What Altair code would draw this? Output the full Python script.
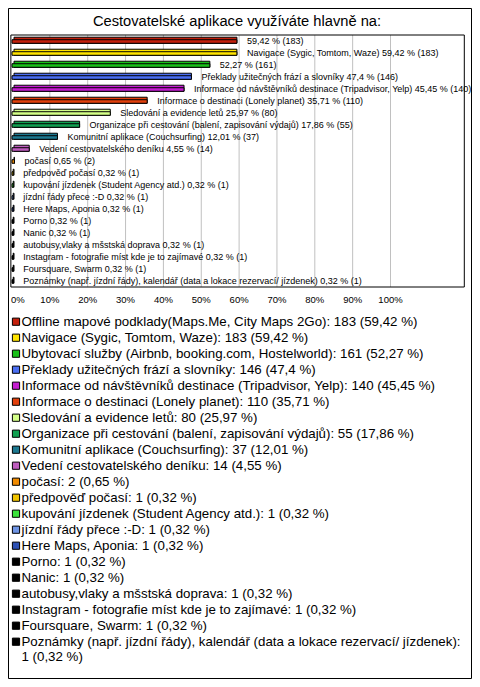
import altair as alt
import pandas as pd

title_text = "Cestovatelské aplikace využíváte hlavně na:"

categories = [
    "Offline mapové podklady(Maps.Me, City Maps 2Go)",
    "Navigace (Sygic, Tomtom, Waze)",
    "Ubytovací služby (Airbnb, booking.com, Hostelworld)",
    "Překlady užitečných frází a slovníky",
    "Informace od návštěvníků destinace (Tripadvisor, Yelp)",
    "Informace o destinaci (Lonely planet)",
    "Sledování a evidence letů",
    "Organizace při cestování (balení, zapisování výdajů)",
    "Komunitní aplikace (Couchsurfing)",
    "Vedení cestovatelského deníku",
    "počasí",
    "předpověď počasí",
    "kupování jízdenek (Student Agency atd.)",
    "jízdní řády přece :-D",
    "Here Maps, Aponia",
    "Porno",
    "Nanic",
    "autobusy,vlaky a mšstská doprava",
    "Instagram - fotografie míst kde je to zajímavé",
    "Foursquare, Swarm",
    "Poznámky (např. jízdní řády), kalendář (data a lokace rezervací/ jízdenek)",
]

bar_names = [
    "",
    "Navigace (Sygic, Tomtom, Waze)",
    "",
    "Překlady užitečných frází a slovníky",
    "Informace od návštěvníků destinace (Tripadvisor, Yelp)",
    "Informace o destinaci (Lonely planet)",
    "Sledování a evidence letů",
    "Organizace při cestování (balení, zapisování výdajů)",
    "Komunitní aplikace (Couchsurfing)",
    "Vedení cestovatelského deníku",
    "počasí",
    "předpověď počasí",
    "kupování jízdenek (Student Agency atd.)",
    "jízdní řády přece :-D",
    "Here Maps, Aponia",
    "Porno",
    "Nanic",
    "autobusy,vlaky a mšstská doprava",
    "Instagram - fotografie míst kde je to zajímavé",
    "Foursquare, Swarm",
    "Poznámky (např. jízdní řády), kalendář (data a lokace rezervací/ jízdenek)",
]

counts = [183, 183, 161, 146, 140, 110, 80, 55, 37, 14, 2,
          1, 1, 1, 1, 1, 1, 1, 1, 1, 1]

percents = [59.42, 59.42, 52.27, 47.4, 45.45, 35.71, 25.97, 17.86, 12.01, 4.55, 0.65,
            0.32, 0.32, 0.32, 0.32, 0.32, 0.32, 0.32, 0.32, 0.32, 0.32]

percent_texts = ["59,42", "59,42", "52,27", "47,4", "45,45", "35,71", "25,97", "17,86",
                 "12,01", "4,55", "0,65", "0,32", "0,32", "0,32", "0,32", "0,32",
                 "0,32", "0,32", "0,32", "0,32", "0,32"]

colors = ["#c4200c", "#ffe400", "#18c018", "#4a6ef2", "#c41cd0", "#e2400c",
          "#d4ff88", "#10a050", "#1c7890", "#be5cbe", "#f08a00", "#f0c400",
          "#3ce43c", "#6e94e4", "#2c50b4", "#000000", "#000000", "#000000",
          "#000000", "#000000", "#000000"]

tick_values = [0, 10, 20, 30, 40, 50, 60, 70, 80, 90, 100]
tick_texts = ["0%", "10%", "20%", "30%", "40%", "50%", "60%", "70%", "80%", "90%", "100%"]

FONT = "Liberation Sans, Arial, sans-serif"
W, H = 464, 671
XMAX = 1.195
PX100 = 378.5

def legend_label(cat, n, p):
    s = f"{cat}: {n} ({p} %)"
    if len(s) > 75:
        s = f"{cat}:\n{n} ({p} %)"
    return s

df = pd.DataFrame({
    "row": list(range(len(categories))),
    "cat": categories,
    "pct": [p / 100 for p in percents],
    "color": colors,
    "bar_label": [(f"{b} " if b else "") + f"{p} % ({n})" for b, p, n in zip(bar_names, percent_texts, counts)],
    "legend_label": [legend_label(c, n, p) for c, n, p in zip(categories, counts, percent_texts)],
})
df["y0"] = df["row"] - 0.19
df["y1"] = df["row"] + 0.19
df["x0"] = 0.0

xs = alt.Scale(domain=[0, XMAX], range=[4, 4 + PX100 * XMAX], nice=False, zero=False)
ys = alt.Scale(domain=[-0.5, 20.5], range=[27, 279], nice=False, zero=False)
ls = alt.Scale(domain=[0, 20], range=[313.7, 633.7], nice=False, zero=False)

grid_df = pd.DataFrame({"v": [t / 100 for t in tick_values[1:]], "y0": -0.5, "y1": 20.5})
tick_df = pd.DataFrame({"v": [t / 100 for t in tick_values], "lab": tick_texts, "y": 20.5})
frame_df = pd.DataFrame({"x0": [-0.003], "x1": [XMAX], "y0": [-0.5], "y1": [20.5]})

outer = alt.Chart(pd.DataFrame({"a": [0]})).mark_rect(
    fill="white", stroke="black", strokeWidth=1
).encode(x=alt.value(0.5), x2=alt.value(W - 0.5), y=alt.value(0.5), y2=alt.value(H - 0.5))

title = alt.Chart(pd.DataFrame({"t": [title_text]})).mark_text(
    font=FONT, fontSize=14.7, color="black", align="center", baseline="alphabetic"
).encode(x=alt.value(229), y=alt.value(18), text="t:N")

grid = alt.Chart(grid_df).mark_rule(color="#c0c0c0", strokeWidth=1).encode(
    x=alt.X("v:Q", scale=xs, axis=None),
    y=alt.Y("y0:Q", scale=ys, axis=None),
    y2="y1:Q",
)

bars_back = alt.Chart(df).mark_rect(stroke="black", strokeWidth=1, xOffset=2, yOffset=-1.5).encode(
    x=alt.X("x0:Q", scale=xs, axis=None),
    x2="pct:Q",
    y=alt.Y("y0:Q", scale=ys, axis=None),
    y2="y1:Q",
    color=alt.Color("color:N", scale=None),
)

bars_front = alt.Chart(df).mark_rect(stroke="black", strokeWidth=1, yOffset=1).encode(
    x=alt.X("x0:Q", scale=xs, axis=None),
    x2="pct:Q",
    y=alt.Y("y0:Q", scale=ys, axis=None),
    y2="y1:Q",
    color=alt.Color("color:N", scale=None),
)

bar_text = alt.Chart(df).mark_text(
    font=FONT, fontSize=9, color="black", align="left", baseline="middle", dx=10
).encode(
    x=alt.X("pct:Q", scale=xs, axis=None),
    y=alt.Y("row:Q", scale=ys, axis=None),
    text="bar_label:N",
)

ticks_first = alt.Chart(tick_df).transform_filter("datum.v == 0").mark_text(
    font=FONT, fontSize=9.5, color="black", align="left", baseline="middle", dy=13, dx=-1
).encode(
    x=alt.X("v:Q", scale=xs, axis=None),
    y=alt.Y("y:Q", scale=ys, axis=None),
    text="lab:N",
)

ticks = alt.Chart(tick_df).transform_filter("datum.v > 0").mark_text(
    font=FONT, fontSize=9.5, color="black", align="center", baseline="middle", dy=13
).encode(
    x=alt.X("v:Q", scale=xs, axis=None),
    y=alt.Y("y:Q", scale=ys, axis=None),
    text="lab:N",
)

frame = alt.Chart(frame_df).mark_rect(fillOpacity=0, stroke="black", strokeWidth=1).encode(
    x=alt.X("x0:Q", scale=xs, axis=None),
    x2="x1:Q",
    y=alt.Y("y0:Q", scale=ys, axis=None),
    y2="y1:Q",
)

leg_sq = alt.Chart(df).mark_square(size=52, stroke="black", strokeWidth=1, opacity=1).encode(
    x=alt.value(8),
    y=alt.Y("row:Q", scale=ls, axis=None),
    color=alt.Color("color:N", scale=None),
)

leg_text = alt.Chart(df).mark_text(
    font=FONT, fontSize=13.3, color="black", align="left", baseline="alphabetic",
    dy=4.7, lineBreak="\n", lineHeight=15
).encode(
    x=alt.value(13.5),
    y=alt.Y("row:Q", scale=ls, axis=None),
    text="legend_label:N",
)

chart = alt.layer(
    outer, title, grid, bars_back, bars_front, bar_text, ticks_first, ticks, frame, leg_sq, leg_text
).resolve_scale(y="independent").properties(
    width=W, height=H, autosize=alt.AutoSizeParams(type="none"), padding=0,
    background="white",
).configure_view(stroke=None)

chart.save("out.html", embed_options={"renderer": "svg", "actions": False})
